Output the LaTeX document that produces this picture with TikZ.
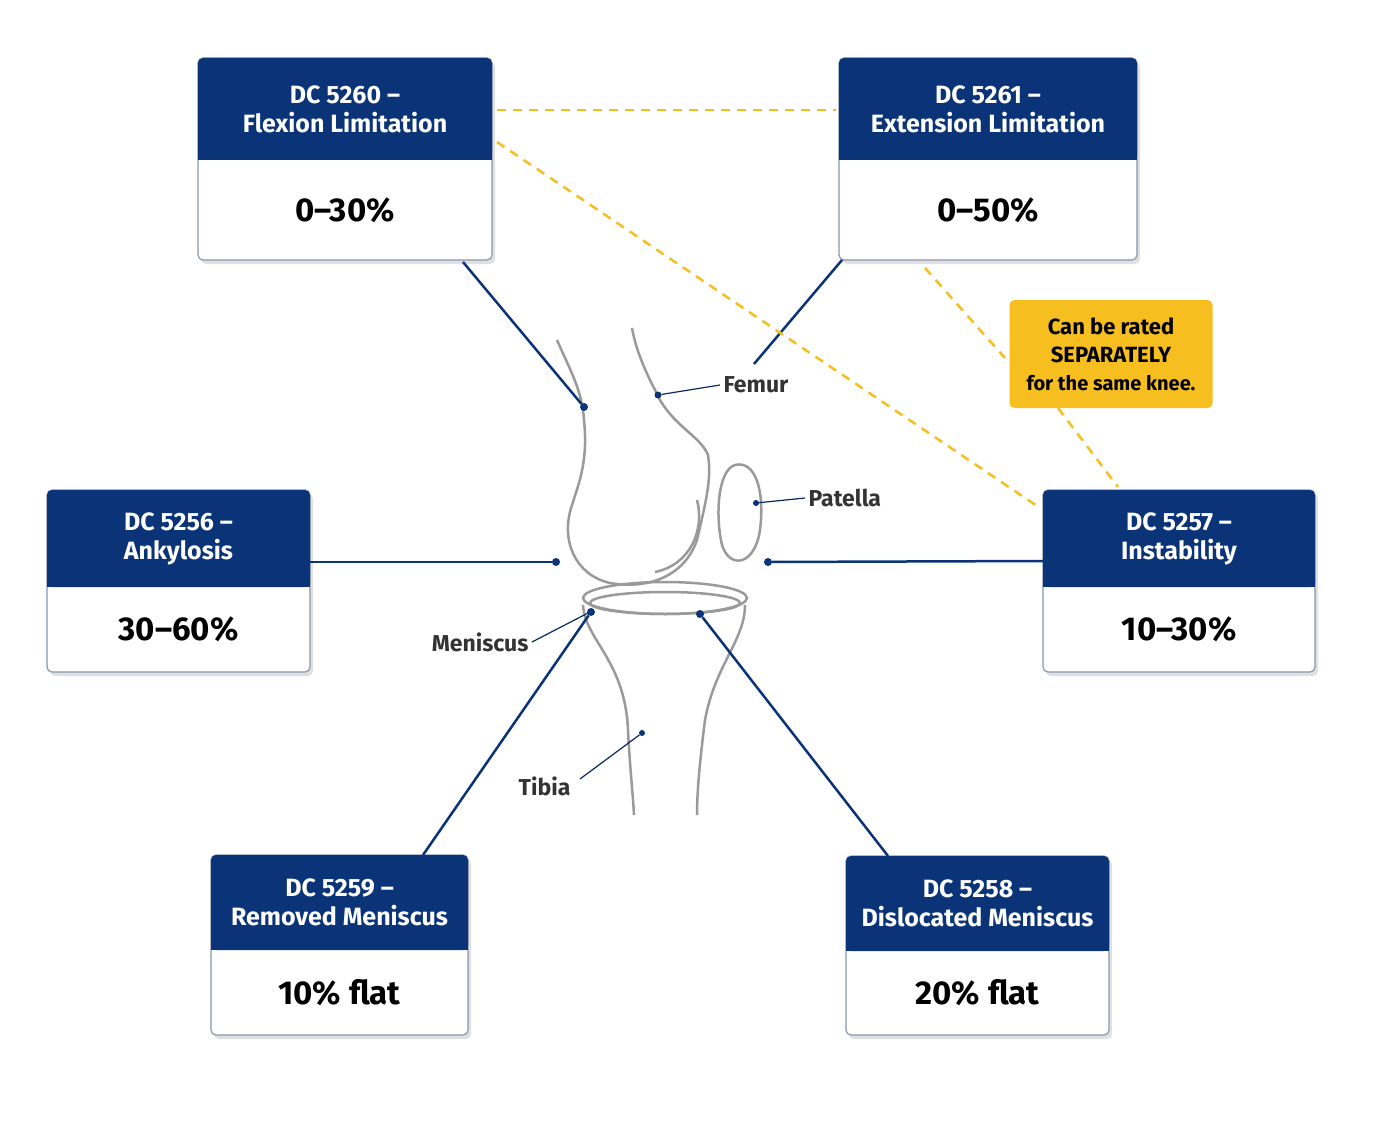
\documentclass[tikz,border=0pt]{standalone}
\usepackage{fontspec}
\setmainfont{Fira Sans}
\definecolor{navy}{HTML}{0B3378}
\definecolor{gold}{HTML}{F6BE1F}
\definecolor{bonegray}{HTML}{9A9A9A}
\definecolor{edge}{HTML}{8A96AA}
\begin{document}
\begin{tikzpicture}[x=1pt,y=-1pt,
  hdr/.style={fill=navy,text=white,align=center,font=\fontsize{25}{29}\selectfont\bfseries},
  bodyt/.style={font=\fontsize{33}{36}\selectfont\bfseries,text=black},
  conn/.style={navy,line width=2.5pt},
  dot/.style={circle,fill=navy,inner sep=0pt,minimum size=8pt},
  golddash/.style={gold,line width=2.5pt,dash pattern=on 9pt off 7pt},
  boneline/.style={bonegray,line width=2.5pt},
  lab/.style={font=\fontsize{23}{26}\selectfont\bfseries,text=black!80},
  lline/.style={navy!80!black,line width=1.2pt}]
\useasboundingbox[fill=white] (0,0) rectangle (1374,1145);
% boxes
\newcommand\dcbox[7]{%
  \fill[black!12,rounded corners=5pt] (#1+3,#2+4) rectangle (#3+3,#4+4);
  \draw[edge,fill=white,line width=1.2pt,rounded corners=5pt] (#1,#2) rectangle (#3,#4);
  \fill[navy,rounded corners=5pt] (#1,#2) rectangle (#3,#5);
  \fill[navy] (#1,#2+10) rectangle (#3,#5);
  \node[hdr] at ({(#1+#3)/2},{(#2+#5)/2}) {#6};
  \node[bodyt] at ({(#1+#3)/2},{(#5+#4)/2}) {#7};}
\dcbox{198}{58}{492}{260}{160}{DC 5260 --\\Flexion Limitation}{0--30\%}
\dcbox{839}{58}{1137}{260}{160}{DC 5261 --\\Extension Limitation}{0--50\%}
\dcbox{47}{490}{310}{672}{587}{DC 5256 --\\Ankylosis}{30--60\%}
\dcbox{1043}{490}{1315}{672}{587}{DC 5257 --\\Instability}{10--30\%}
\dcbox{211}{855}{468}{1035}{950}{DC 5259 --\\Removed Meniscus}{10\% flat}
\dcbox{846}{856}{1109}{1035}{951}{DC 5258 --\\Dislocated Meniscus}{20\% flat}
% knee
\draw[boneline] (557,340) .. controls (570,370) and (582,390) .. (584,420) .. controls (588,460) and (580,480) .. (572,505) .. controls (560,540) and (575,575) .. (610,583) .. controls (650,590) and (685,575) .. (697,540) .. controls (705,505) and (712,480) .. (708,455) .. controls (700,435) and (670,425) .. (655,390) .. controls (642,365) and (635,345) .. (632,328);
\draw[boneline] (697,500) .. controls (705,530) and (690,565) .. (655,572);
\draw[boneline] (735,465) .. controls (755,460) and (765,490) .. (760,530) .. controls (755,565) and (730,570) .. (722,545) .. controls (715,515) and (718,470) .. (735,465);
\draw[boneline] (665,598) ellipse (82 and 16);
\draw[boneline] (665,603) ellipse (75 and 11);
\draw[boneline] (583,605) .. controls (585,640) and (625,660) .. (628,730) .. controls (630,770) and (633,795) .. (634,815);
\draw[boneline] (745,605) .. controls (745,640) and (715,665) .. (705,720) .. controls (700,760) and (697,790) .. (697,815);
% labels
\node[dot,minimum size=7pt] (df) at (658,395) {};
\node[lab,anchor=west] (femur) at (720,385) {Femur};
\draw[lline] (df) -- (femur.west);
\node[dot,minimum size=6pt] (dp) at (756,503) {};
\node[lab,anchor=west] (patella) at (805,498) {Patella};
\draw[lline] (dp) -- (patella.west);
\node[lab,anchor=east] (menis) at (532,642) {Meniscus};
\coordinate (dm) at (590,612);
\draw[lline] (menis.east) -- (dm);
\node[dot,minimum size=6pt] (dt) at (642,733) {};
\node[lab,anchor=east] (tibia) at (574,786) {Tibia};
\coordinate (tl) at (580,779);
\draw[lline] (tl) -- (dt);
% connectors
\node[dot] (k1) at (584,407) {};
\node[dot] (k3) at (556,562) {};
\node[dot] (k4) at (768,562) {};
\node[dot] (k5) at (591,612) {};
\node[dot] (k6) at (700,614) {};
\coordinate (k2) at (754,364);
\draw[conn] (463,262) -- (k1);
\draw[conn] (842,260) -- (k2);
\draw[conn] (310,562) -- (k3);
\draw[conn] (1043,561) -- (k4);
\draw[conn] (423,855) -- (k5);
\draw[conn] (888,856) -- (k6);
% note
\node[fill=gold,rounded corners=5pt,minimum width=203pt,minimum height=108pt,align=center,font=\fontsize{22}{28}\selectfont\bfseries] (note) at (1111,354) {Can be rated\\SEPARATELY\\{\fontsize{20}{26}\selectfont for the same knee.}};
\draw[golddash] (497,110) -- (836,110);
\draw[golddash] (497,142) -- (1040,508);
\draw[golddash] (925,268) -- (1005,358);
\draw[golddash] (1058,408) -- (1118,487);
\end{tikzpicture}
\end{document}
